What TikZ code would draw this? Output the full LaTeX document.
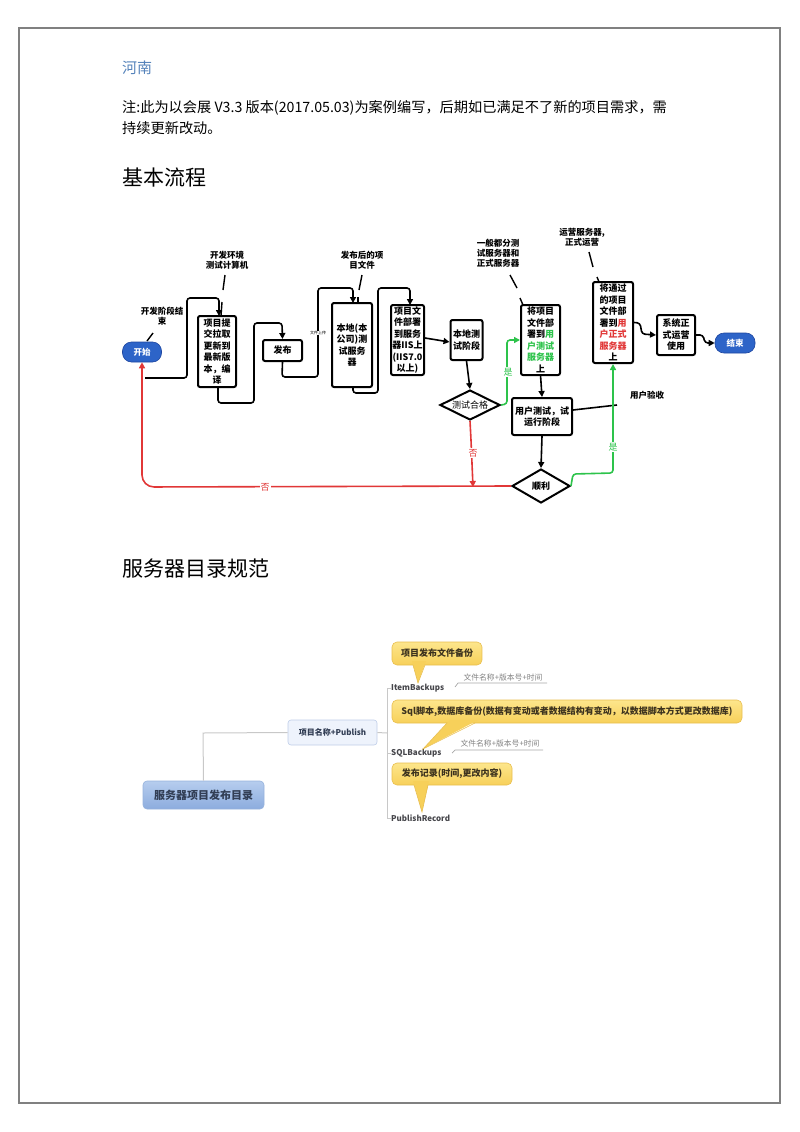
\documentclass[tikz,border=0pt]{standalone}
\usepackage{fontspec}
\setmainfont{Noto Sans CJK SC}
\usetikzlibrary{arrows.meta,shapes.geometric}
\definecolor{pageline}{RGB}{128,128,128}
\definecolor{henan}{RGB}{84,130,186}
\definecolor{fgreen}{RGB}{45,195,75}
\definecolor{fred}{RGB}{225,55,55}
\definecolor{pillblue}{RGB}{45,100,200}
\definecolor{pillborder}{RGB}{30,70,160}
\definecolor{mmline}{RGB}{200,200,200}
\definecolor{roottop}{RGB}{182,205,238}
\definecolor{rootbot}{RGB}{140,172,222}
\definecolor{rootborder}{RGB}{150,178,220}
\definecolor{roottext}{RGB}{50,62,85}
\definecolor{pubfill}{RGB}{238,243,252}
\definecolor{pubborder}{RGB}{190,205,232}
\definecolor{calltop}{RGB}{253,230,140}
\definecolor{callbot}{RGB}{247,208,90}
\definecolor{callborder}{RGB}{232,190,80}
\definecolor{calltext}{RGB}{60,50,30}
\definecolor{itemtext}{RGB}{70,70,75}
\definecolor{notetext}{RGB}{130,130,130}
\begin{document}
\begin{tikzpicture}[x=1pt,y=-1pt,
  txt/.style={anchor=base west, inner sep=0pt},
  box/.style={draw, line width=2pt, rounded corners=2pt, fill=white, align=center, inner sep=0pt, font=\bfseries\fontsize{9}{11.5}\selectfont},
  pill/.style={fill=pillblue, draw=pillborder, line width=0.6pt, rounded corners=9pt, text=white, inner sep=0pt, font=\bfseries\fontsize{8.5}{10}\selectfont},
  dia/.style={diamond, draw, line width=2pt, fill=white, inner sep=0pt, aspect=2},
  lab/.style={align=center, inner sep=0pt, font=\bfseries\fontsize{8.5}{10.2}\selectfont},
  conn/.style={line width=1.6pt, rounded corners=3pt},
  tick/.style={line width=1.4pt},
  arr/.style={-{Triangle[length=6pt,width=6pt]}},
  yn/.style={inner sep=1pt, fill=white, font=\fontsize{9}{10}\selectfont},
  mm/.style={draw=mmline, line width=1pt},
  callout/.style={top color=calltop, bottom color=callbot, draw=callborder, line width=0.6pt, rounded corners=5pt, inner sep=0pt, text=calltext, font=\bfseries\fontsize{9}{11}\selectfont},
  item/.style={anchor=west, inner sep=0pt, text=itemtext, font=\bfseries\fontsize{8}{9}\selectfont},
  fname/.style={inner sep=0pt, text=notetext, font=\fontsize{7.8}{9}\selectfont}
]
\useasboundingbox (0,0) rectangle (800,1132);
\draw[pageline, line width=1.6pt] (19,28) rectangle (780,1103);

% ---- texts ----
\node[txt, text=henan, font=\fontsize{15}{18}\selectfont] (henan) at (122,74) {河南};
\node[txt, font=\fontsize{14.2}{16}\selectfont] (note1) at (122,112) {注:此为以会展 V3.3 版本(2017.05.03)为案例编写，后期如已满足不了新的项目需求，需};
\node[txt, font=\fontsize{14.2}{16}\selectfont] (note2) at (122,133) {持续更新改动。};
\node[txt, font=\fontsize{21}{24}\selectfont] (h1) at (122,185) {基本流程};
\node[txt, font=\fontsize{21}{24}\selectfont] (h2) at (122,576) {服务器目录规范};

% ---- flowchart nodes ----
\node[pill, minimum width=39, minimum height=20] (start) at (142,352) {开始};
\node[box, minimum width=38, minimum height=71] (b1) at (217,351.5) {项目提\\交拉取\\更新到\\最新版\\本，编\\译};
\node[box, minimum width=39, minimum height=21] (fabu) at (282.5,350.5) {发布};
\node[box, minimum width=40, minimum height=84] (b3) at (352,345) {本地(本\\公司)测\\试服务\\器};
\node[box, minimum width=33, minimum height=70] (b4) at (407.5,340) {项目文\\件部署\\到服务\\器IIS上\\(IIS7.0\\以上)};
\node[box, minimum width=32, minimum height=40] (b5) at (466.5,340) {本地测\\试阶段};
\node[dia, minimum width=60, minimum height=30, font=\fontsize{9}{10}\selectfont] (d1) at (470,405) {测试合格};
\node[box, minimum width=39, minimum height=70] (b6) at (540.5,340) {将项目\\文件部\\署到\textcolor{fgreen}{用}\\\textcolor{fgreen}{户测试}\\\textcolor{fgreen}{服务器}\\上};
\node[box, minimum width=60, minimum height=37] (b7) at (542,416.5) {用户测试，试\\运行阶段};
\node[dia, minimum width=58, minimum height=34, font=\bfseries\fontsize{9}{10}\selectfont] (d2) at (541,486) {顺利};
\node[box, minimum width=40, minimum height=81] (b8) at (613,322.5) {将通过\\的项目\\文件部\\署到\textcolor{fred}{用}\\\textcolor{fred}{户正式}\\\textcolor{fred}{服务器}\\上};
\node[box, minimum width=38, minimum height=40] (b9) at (676,335) {系统正\\式运营\\使用};
\node[pill, minimum width=40, minimum height=20] (end) at (735,343) {结束};

% ---- labels ----
\node[lab] (l1) at (162,316) {开发阶段结\\束};
\node[lab] (l2) at (227,260) {开发环境\\测试计算机};
\node[lab] (l3) at (362,260) {发布后的项\\目文件};
\node[lab] (l4) at (498,253) {一般都分测\\试服务器和\\正式服务器};
\node[lab] (l5) at (582,237) {运营服务器,\\正式运营};
\node[lab] (l6) at (647,395) {用户验收};

\draw[tick] (153,333) -- (147,341);
\draw[tick] (225,275) -- (223,290);
\draw[tick] (222,302) -- (221,316);
\draw[tick] (362,275) -- (359,290);
\draw[tick] (358,297) -- (358,303);
\draw[tick] (510,275) -- (517,288);
\draw[tick] (520,298) -- (523,305);
\draw[tick] (589,252) -- (593,267);
\draw[tick] (597,277) -- (599,282);

% ---- connectors ----
\coordinate (c1s) at (145,378);
\draw[conn, arr] (c1s) -- (187,378) -- (187,298) -- (219,298) -- (219,316);
\draw[conn, arr] (218,387) -- (218,403) -- (254,403) -- (254,323) -- (282,323) -- (fabu.north);
\draw[conn, arr] (fabu.south) -- (282,377) -- (318,377) -- (318,288) -- (353,288) -- (353,303);
\node[inner sep=0.5pt, fill=white, font=\fontsize{4}{5}\selectfont] (up) at (318,333) {文件上传};
\draw[conn, arr] (353,387) -- (353,393) -- (378,393) -- (378,288) -- (410,288) -- (410,305);
\draw[conn, arr] (b4.east |- 0,338) -- (b5.west |- 0,342);
\draw[conn, arr] (b5.south) -- (d1.north);
\draw[conn, arr, fgreen] (d1.east) -- (507,404) -- (507,340) -- (b6.west |- 0,340);
\node[yn, text=fgreen] (y1) at (508,372) {是};
\draw[conn, arr] (b6.south |- 0,375) -- (b7.north);
\draw[conn] (b7.east |- 0,410) -- (617,405);
\draw[conn, arr] (b7.south) -- (d2.north);
\draw[conn, arr, fgreen] (d2.east) -- (573,474) -- (613,473) -- (b8.south);
\node[yn, text=fgreen] (y2) at (613,447) {是};
\draw[conn, arr, fred, rounded corners=12pt] (d2.west) -- (142,487) -- (start.south);
\node[yn, text=fred] (n1) at (265,487) {否};
\draw[conn, arr, fred] (d1.south) -- (471,440) -- (473,487);
\node[yn, text=fred] (n2) at (473,453) {否};
\draw[conn, arr] (b8.east) -- (640,323) -- (642,334) -- (b9.west);
\draw[conn, arr] (b9.east) -- (703,335) -- (705,343) -- (end.west);

% ---- mind map ----
\node[top color=roottop, bottom color=rootbot, draw=rootborder, line width=0.6pt, rounded corners=4pt, minimum width=121, minimum height=28, inner sep=0pt, text=roottext, font=\bfseries\fontsize{11}{12}\selectfont] (root) at (203.5,795) {服务器项目发布目录};
\node[fill=pubfill, draw=pubborder, line width=0.6pt, rounded corners=3pt, minimum width=89, minimum height=25, inner sep=0pt, text=roottext, font=\bfseries\fontsize{8}{9}\selectfont] (pub) at (332.5,732.5) {项目名称+Publish};
\draw[mm] (root.north) -- (203,733) -- (pub.west);
\draw[mm] (pub.east) -- (387,733);
\draw[mm] (387,688) -- (387,818);
\coordinate (i1) at (391,688);
\coordinate (i2) at (391,753);
\coordinate (i3) at (391,818);
\draw[mm] (387,688) -- (i1);
\draw[mm] (387,753) -- (i2);
\draw[mm] (387,818) -- (i3);
\node[item] (ib) at (i1) {ItemBackups};
\node[item] (sb) at (i2) {SQLBackups};
\node[item] (pr) at (i3) {PublishRecord};

\node[callout, minimum width=90, minimum height=23] (co1) at (437,653.5) {项目发布文件备份};
\fill[callbot] (412,661) -- (418,683) -- (426,661) -- cycle;
\draw[callborder, line width=0.6pt] (413,665) -- (418,683) -- (425,665);

\node[callout, minimum width=350, minimum height=23] (co2) at (567,711.5) {Sql脚本,数据库备份(数据有变动或者数据结构有变动，以数据脚本方式更改数据库)};
\fill[callbot] (450,720) -- (423,749) -- (478,720) -- cycle;
\draw[callborder, line width=0.6pt] (447,723) -- (423,749) -- (475,723);

\node[callout, minimum width=120, minimum height=22] (co3) at (452,774) {发布记录(时间,更改内容)};
\fill[callbot] (413,781) -- (422,812) -- (429,781) -- cycle;
\draw[callborder, line width=0.6pt] (414,785) -- (422,812) -- (428,785);

\node[fname] (f1) at (503,678) {文件名称+版本号+时间};
\draw[mm, line width=0.7pt, draw=notetext!70] (455,687) -- (458,683) -- (547,683);
\node[fname] (f2) at (500,744) {文件名称+版本号+时间};
\draw[mm, line width=0.7pt, draw=notetext!70] (452,753) -- (455,750) -- (543,750);
\end{tikzpicture}
\end{document}
